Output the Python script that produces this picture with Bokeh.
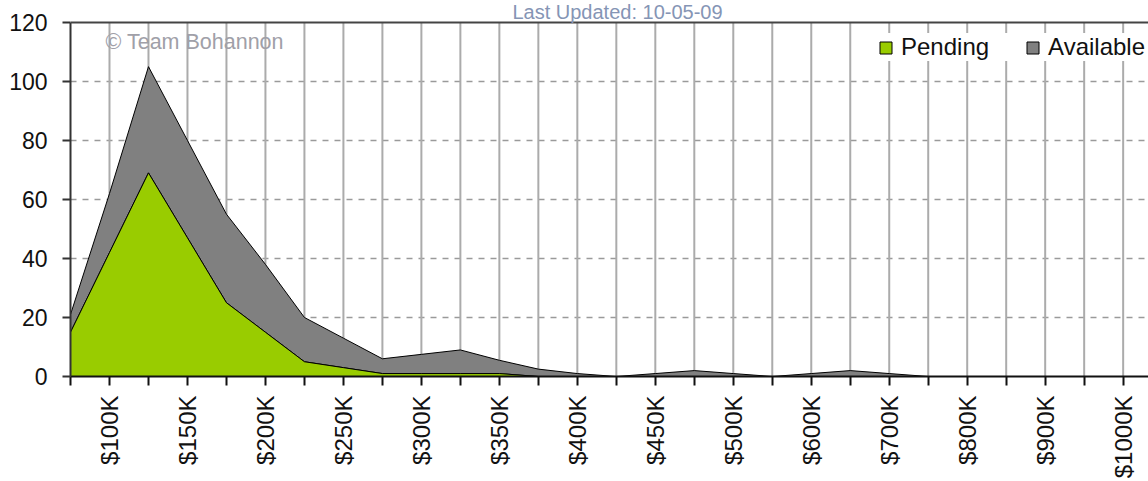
import math
import numpy as np
from bokeh.plotting import figure
from bokeh.models import FixedTicker, Span, Label, Legend, LegendItem, Range1d
from bokeh.embed import file_html
from bokeh.resources import INLINE

# ---- data ----
categories = ["$75K", "$100K", "$125K", "$150K", "$175K", "$200K", "$225K", "$250K",
              "$275K", "$300K", "$325K", "$350K", "$375K", "$400K", "$425K", "$450K",
              "$475K", "$500K", "$550K", "$600K", "$650K", "$700K", "$750K", "$800K",
              "$850K", "$900K", "$950K", "$1000K", "$1000K+"]
pending = [15, 42, 69, 47, 25, 15, 5, 3, 1, 1, 1, 1, 0, 0, 0, 0, 0,
           0, 0, 0, 0, 0, 0, 0, 0, 0, 0, 0, 0]
available = [6, 20, 36, 33, 30, 23, 15, 10, 5, 6.5, 8, 4.5, 2.5, 1, 0, 1, 2,
             1, 0, 1, 2, 1, 0, 0, 0, 0, 0, 0, 0]
y_ticks = [0, 20, 40, 60, 80, 100, 120]
title_text = "Last Updated: 10-05-09"
credit_text = "\u00a9 Team Bohannon"

FONT = "Liberation Sans"

x = np.arange(len(categories))
p_top = np.array(pending, dtype=float)
a_top = p_top + np.array(available, dtype=float)
y_max = y_ticks[-1]

# frame spans the full height above the axis so the title text is not clipped;
# the value axis itself stops at y_max
p = figure(width=1148, height=481, output_backend="svg", toolbar_location=None,
           x_range=Range1d(0, 27.65), y_range=Range1d(0, y_max * 378 / 356),
           min_border_left=70, min_border_right=0, min_border_top=0, min_border_bottom=103)
p.outline_line_color = None
p.background_fill_color = "white"
p.border_fill_color = "white"

# grids
p.xgrid.visible = False
grid_x = x[1:]
p.segment(x0=grid_x, y0=np.zeros(len(grid_x)), x1=grid_x, y1=np.full(len(grid_x), y_max),
          line_color="#ABABAB", line_width=2)
p.ygrid.ticker = FixedTicker(ticks=y_ticks[1:-1])
p.ygrid.grid_line_color = "#9A9A9A"
p.ygrid.grid_line_width = 1.5
p.ygrid.grid_line_dash = "6 6"

# stacked areas as outlined polygons
xs = np.concatenate([x, x[::-1]])
grey = p.patch(xs, np.concatenate([a_top, p_top[::-1]]), fill_color="#808080",
               line_color="black", line_width=1)
green = p.patch(xs, np.concatenate([p_top, np.zeros_like(p_top)[::-1]]), fill_color="#99CC00",
                line_color="black", line_width=1)

# x axis
xa = p.xaxis[0]
xa.ticker = FixedTicker(ticks=list(range(len(categories))))
xa.major_label_overrides = {i: (c if i % 2 == 1 else "") for i, c in enumerate(categories)}
xa.major_label_orientation = math.pi / 2
xa.major_label_text_font = FONT
xa.major_label_text_font_size = "24px"
xa.major_label_text_color = "#111111"
xa.major_label_standoff = 10
xa.major_tick_out = 9
xa.major_tick_in = 0
xa.minor_tick_out = 0
xa.minor_tick_in = 0
xa.major_tick_line_width = 2
xa.major_tick_line_color = "#111111"
xa.axis_line_width = 2
xa.axis_line_color = "#111111"

# y axis
ya = p.yaxis[0]
ya.ticker = FixedTicker(ticks=y_ticks)
ya.bounds = (0, y_max)
ya.major_label_text_font = FONT
ya.major_label_text_font_size = "23px"
ya.major_label_text_color = "#111111"
ya.major_label_standoff = 15
ya.major_tick_out = 8
ya.major_tick_in = 0
ya.minor_tick_out = 0
ya.minor_tick_in = 0
ya.major_tick_line_width = 2
ya.major_tick_line_color = "#333333"
ya.axis_line_width = 2
ya.axis_line_color = "#333333"

legend = Legend(items=[LegendItem(label="Pending", renderers=[green]),
                       LegendItem(label="Available", renderers=[grey])],
                orientation="horizontal", location=(808, 315),
                glyph_width=15, glyph_height=15, label_standoff=8, spacing=36,
                padding=12, label_height=24,
                background_fill_color="white", background_fill_alpha=1.0,
                border_line_color=None,
                label_text_font=FONT, label_text_font_size="24px",
                label_text_color="#111111")
p.add_layout(legend)

p.add_layout(Span(location=y_max, dimension="width", line_color="#444444", line_width=2))

p.add_layout(Label(x=35, y=335, x_units="screen", y_units="screen", text=credit_text,
                   text_font=FONT, text_font_size="21.5px", text_color="#A0A0A8",
                   text_baseline="alphabetic"))
p.add_layout(Label(x=547, y=365, x_units="screen", y_units="screen", text=title_text,
                   text_font=FONT, text_font_size="20px", text_color="#8595B5",
                   text_align="center", text_baseline="alphabetic"))

open("out.html", "w").write(file_html(p, INLINE))
